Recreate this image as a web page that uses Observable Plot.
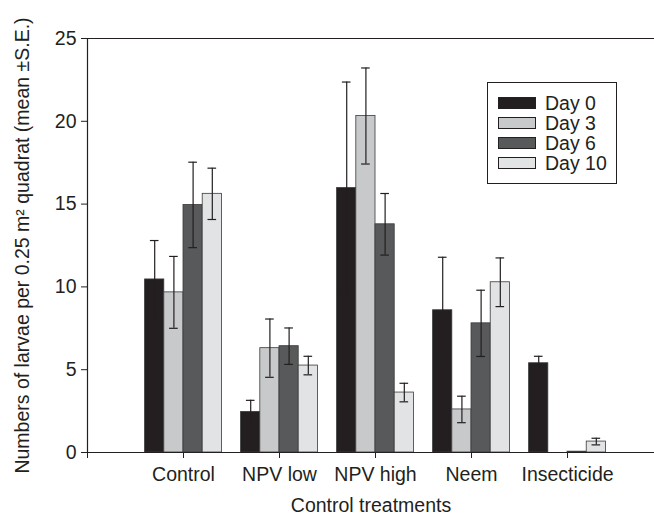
<!DOCTYPE html>
<html>
<head>
<meta charset="utf-8">
<script src="https://cdn.jsdelivr.net/npm/d3@7"></script>
<script src="https://cdn.jsdelivr.net/npm/@observablehq/plot@0.6"></script>
<style>
  html, body { margin: 0; padding: 0; background: #fff; }
  #wrap { position: relative; width: 654px; height: 516px; font-family: "Liberation Sans", Arial, sans-serif; color: #231f20; }
  #legend { position: absolute; left: 487px; top: 82px; width: 130px; height: 102px; border: 1.3px solid #231f20; background: #fff; padding: 10px 0 0 10px; box-sizing: border-box; }
  .row { display: flex; align-items: center; height: 20px; font-size: 19.5px; line-height: 20px; }
  .sw { width: 38px; height: 12px; border: 1px solid #231f20; margin-right: 9px; box-sizing: border-box; }
</style>
</head>
<body>
<div id="wrap"><div id="chart"></div><div id="legend"></div></div>
<script>
const categories = ["Control", "NPV low", "NPV high", "Neem", "Insecticide"];
const days = ["Day 0", "Day 3", "Day 6", "Day 10"];
const day0 = [10.45, 2.45, 15.97, 8.59, 5.39];
const day0SE = [2.35, 0.70, 6.40, 3.20, 0.42];
const day3 = [9.67, 6.30, 20.32, 2.60, 0];
const day3SE = [2.17, 1.76, 2.90, 0.80, 0];
const day6 = [14.95, 6.42, 13.78, 7.80, 0.05];
const day6SE = [2.58, 1.10, 1.86, 2.00, 0];
const day10 = [15.62, 5.25, 3.62, 10.28, 0.66];
const day10SE = [1.55, 0.56, 0.56, 1.47, 0.20];
const yTicks = [0, 5, 10, 15, 20, 25];
const colors = ["#231f20", "#c8c9cb", "#58595b", "#e2e3e5"];

const series = [[day0, day0SE], [day3, day3SE], [day6, day6SE], [day10, day10SE]];
const barW = 0.2;
const rows = [];
series.forEach(([vals, ses], j) => {
  vals.forEach((v, i) => {
    const x1 = i + 1 + (j - 2) * barW;
    rows.push({cat: categories[i], day: days[j], x1, x2: x1 + barW, xm: x1 + barW / 2, value: v, se: ses[i]});
  });
});
const err = rows.filter(d => d.se > 0);
const cap = 0.045;

const chart = Plot.plot({
  width: 654,
  height: 516,
  marginLeft: 87,
  marginRight: 0,
  marginTop: 38,
  marginBottom: 64,
  style: {fontFamily: "'Liberation Sans', Arial, sans-serif", fontSize: "19.5px", color: "#231f20", background: "transparent"},
  x: {domain: [0, 5.906]},
  y: {domain: [0, 25]},
  color: {domain: days, range: colors},
  marks: [
    Plot.rect(rows, {x1: "x1", x2: "x2", y1: 0, y2: "value", fill: "day", stroke: "#3a3a3a", strokeWidth: 0.8}),
    Plot.ruleX(err, {x: "xm", y1: d => d.value - d.se, y2: d => d.value + d.se, stroke: "#231f20", strokeWidth: 1.2}),
    Plot.ruleY(err, {y: d => d.value + d.se, x1: d => d.xm - cap, x2: d => d.xm + cap, stroke: "#231f20", strokeWidth: 1.2}),
    Plot.ruleY(err, {y: d => d.value - d.se, x1: d => d.xm - cap, x2: d => d.xm + cap, stroke: "#231f20", strokeWidth: 1.2}),
    Plot.ruleY([0], {stroke: "#231f20", strokeWidth: 1.2}),
    Plot.ruleY([25], {stroke: "#231f20", strokeWidth: 1.2}),
    Plot.ruleX([0], {stroke: "#231f20", strokeWidth: 1.2}),
    Plot.axisY({ticks: yTicks, tickSize: 6, tickPadding: 5, label: "Numbers of larvae per 0.25 m² quadrat (mean ±S.E.)", labelAnchor: "center", labelArrow: "none", labelOffset: 72}),
    Plot.axisX({ticks: [0, 1, 2, 3, 4, 5], tickFormat: i => i === 0 ? "" : categories[i - 1], tickSize: 6, tickPadding: 9, label: "Control treatments", labelAnchor: "center", labelArrow: "none", labelOffset: 59})
  ]
});
document.getElementById("chart").appendChild(chart);

const legend = document.getElementById("legend");
days.forEach((d, j) => {
  const r = document.createElement("div");
  r.className = "row";
  const s = document.createElement("div");
  s.className = "sw";
  s.style.background = colors[j];
  const t = document.createElement("span");
  t.textContent = d;
  r.appendChild(s); r.appendChild(t);
  legend.appendChild(r);
});
</script>
</body>
</html>
